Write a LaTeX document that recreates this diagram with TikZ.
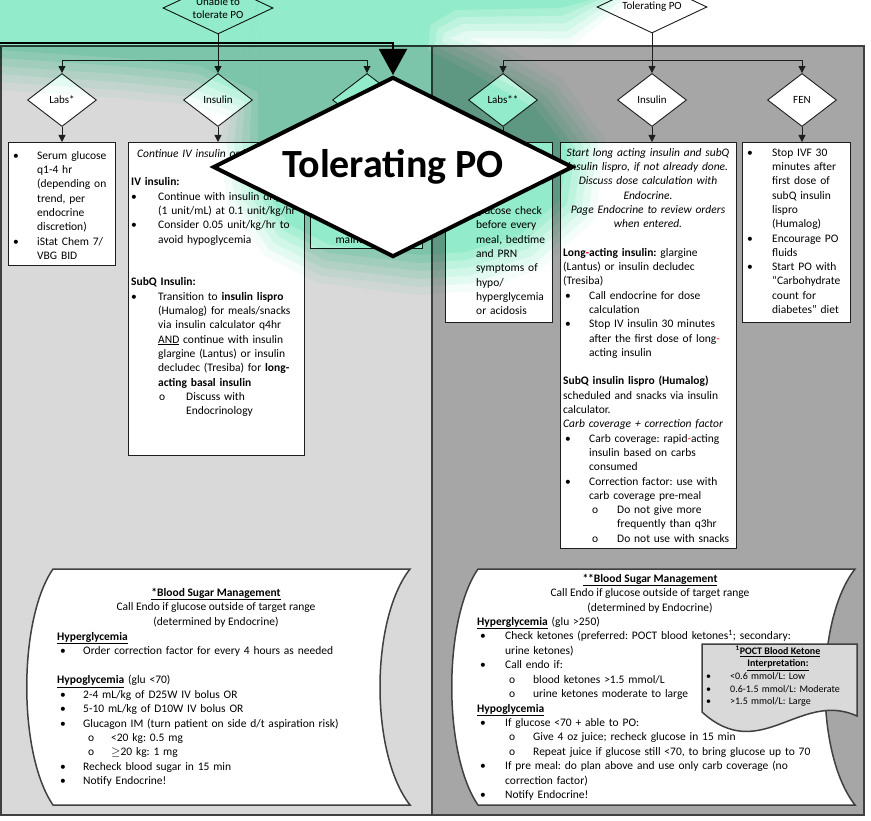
\documentclass[tikz,border=0pt]{standalone}
\usepackage{fontspec}
\setmainfont{Carlito}
\usetikzlibrary{shapes.geometric,arrows.meta}
\frenchspacing
\definecolor{lgray}{RGB}{217,217,217}
\definecolor{dgray}{RGB}{166,166,166}
\definecolor{edge}{RGB}{64,64,64}
\definecolor{ink}{RGB}{30,30,30}
\definecolor{g0}{rgb}{0.958,0.9925,0.9796}
\definecolor{g1}{rgb}{0.934,0.988,0.969}
\definecolor{g2}{rgb}{0.921,0.987,0.963}
\definecolor{g3}{rgb}{0.908,0.986,0.961}
\definecolor{g4}{rgb}{0.888,0.984,0.953}
\definecolor{g5}{rgb}{0.873,0.984,0.951}
\newcommand\fs{\fontsize{11.5pt}{14.3pt}\selectfont}
\newcommand\fd{\fontsize{11.5pt}{14.45pt}\selectfont}
\newcommand\fc{\fontsize{10pt}{12.5pt}\selectfont}
\newcommand\bi[2]{\hspace*{#1}\makebox[#2][l]{•}}
\newcommand\oi[2]{\hspace*{#1}\makebox[#2][l]{o}}
\newcommand\rh{\textcolor{red}{-}}
\tikzset{
 panel/.style={draw=edge, line width=1.5pt},
 dia/.style={diamond, draw=ink, fill=white, line width=0.9pt, inner sep=0pt, aspect=1.3,
   minimum width=69pt, minimum height=53pt, font=\fontsize{11pt}{13pt}\selectfont, align=center},
 topdia/.style={dia, aspect=2.2, minimum width=110pt, minimum height=52pt},
 bigdia/.style={diamond, draw=black, fill=white, line width=4pt, inner sep=0pt, aspect=2,
   minimum width=360pt, minimum height=180pt, font=\fontsize{40pt}{48pt}\selectfont\bfseries},
 box/.style={draw=ink, fill=white, line width=1.2pt, anchor=north west, inner sep=0pt},
 txt/.style={anchor=north west, inner sep=0pt, align=left, font=\fs, text width=#1},
 dtxt/.style={anchor=north west, inner sep=0pt, align=left, font=\fd, text width=#1},
 conn/.style={draw=ink, line width=0.8pt},
 arr/.style={conn, -{Triangle[length=7pt,width=7pt]}},
 doc/.style={draw=edge, fill=white, line width=1.5pt},
 callout/.style={draw=edge, fill=lgray, line width=1.5pt},
}
\begin{document}
\begin{tikzpicture}[x=1pt, y=-1pt]
\useasboundingbox (0,0) rectangle (871,821);
% panels
\draw[panel, fill=lgray] (1,46) rectangle (432,815);
\draw[panel, fill=dgray] (432,46) rectangle (864,815);

% top diamonds
\node[topdia] (unable) at (218,8) {Unable to\\tolerate PO};
\node[topdia] (tolpo) at (652,7) {Tolerating PO};
\coordinate (jA) at (218,60);
\coordinate (jB) at (652,60);

% second level diamonds
\node[dia] (labsA) at (62,100) {Labs*};
\node[dia] (insA) at (218,100) {Insulin};
\node[dia] (fenA) at (367,100) {FEN};
\node[dia] (labsB) at (503,100) {Labs**};
\node[dia] (insB) at (652,100) {Insulin};
\node[dia] (fenB) at (802,100) {FEN};

% boxes
\node[box, minimum width=107pt, minimum height=123pt] (boxA) at (8,142) {};
\node[box, minimum width=176pt, minimum height=313pt] (boxB) at (128,142) {};
\node[box, minimum width=112pt, minimum height=106pt] (boxC) at (310,142) {};
\node[box, minimum width=107pt, minimum height=180pt] (boxD) at (445,142) {};
\node[box, minimum width=176pt, minimum height=406pt] (boxE) at (560,142) {};
\node[box, minimum width=108pt, minimum height=180pt] (boxF) at (742,142) {};

% connectors
\draw[conn] (unable.south) -- (jA);
\draw[arr] (jA) -| (labsA.north);
\draw[arr] (jA) -- (insA.north);
\draw[arr] (jA) -| (fenA.north);
\draw[conn] (tolpo.south) -- (jB);
\draw[arr] (jB) -| (labsB.north);
\draw[arr] (jB) -- (insB.north);
\draw[arr] (jB) -| (fenB.north);
\draw[arr] (labsA.south) -- (labsA.south |- boxA.north);
\draw[arr] (insA.south) -- (insA.south |- boxB.north);
\draw[arr] (fenA.south) -- (fenA.south |- boxC.north);
\draw[arr] (labsB.south) -- (labsB.south |- boxD.north);
\draw[arr] (insB.south) -- (insB.south |- boxE.north);
\draw[arr] (fenB.south) -- (fenB.south |- boxF.north);

% box texts
\node[txt=105pt] (tA) at (13,149) {\strut\bi{0pt}{24pt}Serum glucose\\
 \hspace*{24pt}q1-4 hr\\ \hspace*{24pt}(depending on\\ \hspace*{24pt}trend, per\\
 \hspace*{24pt}endocrine\\ \hspace*{24pt}discretion)\\ \bi{0pt}{24pt}iStat Chem 7/\\
 \hspace*{24pt}VBG BID};

\node[txt=200pt] (tB) at (131,147) {\strut\hspace*{6pt}\textit{Continue IV insulin orders}\\
 \mbox{}\\
 \textbf{IV insulin:}\\
 \bi{0pt}{27pt}Continue with insulin drip\\
 \hspace*{27pt}(1 unit/mL) at 0.1 unit/kg/hr\\
 \bi{0pt}{27pt}Consider 0.05 unit/kg/hr to\\
 \hspace*{27pt}avoid hypoglycemia\\
 \mbox{}\\ \mbox{}\\
 \textbf{SubQ Insulin:}\\
 \bi{0pt}{27pt}Transition to \textbf{insulin lispro}\\
 \hspace*{27pt}(Humalog) for meals/snacks\\
 \hspace*{27pt}via insulin calculator q4hr\\
 \hspace*{27pt}\underline{AND} continue with insulin\\
 \hspace*{27pt}glargine (Lantus) or insulin\\
 \hspace*{27pt}decludec (Tresiba) for \textbf{long-}\\
 \hspace*{27pt}\textbf{acting basal insulin}\\
 \oi{28pt}{27pt}Discuss with\\
 \hspace*{55pt}Endocrinology};

\node[anchor=center, inner sep=0pt, font=\fs] (tC) at (366,240) {maintenance};

\node[txt=105pt] (tD) at (452,190) {\strut\bi{0pt}{24pt}POC\\
 \hspace*{24pt}glucose check\\ \hspace*{24pt}before every\\ \hspace*{24pt}meal, bedtime\\
 \hspace*{24pt}and PRN\\ \hspace*{24pt}symptoms of\\ \hspace*{24pt}hypo/\\
 \hspace*{24pt}hyperglycemia\\ \hspace*{24pt}or acidosis};

\node[anchor=north, inner sep=0pt, align=center, text width=180pt, font=\fs\itshape] (tE1) at (648,146)
 {\strut Start long acting insulin and subQ\\ insulin lispro, if not already done.\\
  Discuss dose calculation with\\ Endocrine.\\ Page Endocrine to review orders\\ when entered.};

\node[txt=185pt] (tE2) at (563,246) {\strut\textbf{Long\rh acting insulin:} glargine\\
 (Lantus) or insulin decludec\\ (Tresiba)\\
 \bi{2pt}{24pt}Call endocrine for dose\\ \hspace*{26pt}calculation\\
 \bi{2pt}{24pt}Stop IV insulin 30 minutes\\ \hspace*{26pt}after the first dose of long\rh\\
 \hspace*{26pt}acting insulin\\
 \mbox{}\\
 \textbf{SubQ insulin lispro (Humalog)}\\
 scheduled and snacks via insulin\\ calculator.\\
 \textit{Carb coverage + correction factor}\\
 \bi{2pt}{24pt}Carb coverage: rapid\rh acting\\ \hspace*{26pt}insulin based on carbs\\
 \hspace*{26pt}consumed\\
 \bi{2pt}{24pt}Correction factor: use with\\ \hspace*{26pt}carb coverage pre-meal\\
 \oi{29pt}{25pt}Do not give more\\ \hspace*{54pt}frequently than q3hr\\
 \oi{29pt}{25pt}Do not use with snacks};

\node[txt=115pt] (tF) at (746,146) {\strut\bi{1pt}{25pt}Stop IVF 30\\
 \hspace*{26pt}minutes after\\ \hspace*{26pt}first dose of\\ \hspace*{26pt}subQ insulin\\
 \hspace*{26pt}lispro\\ \hspace*{26pt}(Humalog)\\
 \bi{1pt}{25pt}Encourage PO\\ \hspace*{26pt}fluids\\
 \bi{1pt}{25pt}Start PO with\\ \hspace*{26pt}“Carbohydrate\\ \hspace*{26pt}count for\\
 \hspace*{26pt}diabetes” diet};

% bottom documents
\draw[doc] (53,569) -- (410,569) .. controls (370,620) and (370,754) .. (410,805)
  -- (53,805) .. controls (18,754) and (18,620) .. (53,569) -- cycle;
\draw[doc] (478,569) -- (855,569) .. controls (815,620) and (815,754) .. (855,805)
  -- (478,805) .. controls (443,754) and (443,620) .. (478,569) -- cycle;

\node[anchor=north, inner sep=0pt, align=center, font=\fd] (hL) at (216,586)
 {\strut\textbf{\underline{*Blood Sugar Management}}\\ Call Endo if glucose outside of target range\\
  (determined by Endocrine)};
\node[dtxt=340pt] (bL) at (57,630) {\strut\textbf{\underline{Hyperglycemia}}\\
 \bi{3pt}{23pt}Order correction factor for every 4 hours as needed\\
 \mbox{}\\
 \textbf{\underline{Hypoglycemia}} (glu <70)\\
 \bi{3pt}{23pt}2-4 mL/kg of D25W IV bolus OR\\
 \bi{3pt}{23pt}5-10 mL/kg of D10W IV bolus OR\\
 \bi{3pt}{23pt}Glucagon IM (turn patient on side d/t aspiration risk)\\
 \oi{31pt}{23pt}<20 kg: 0.5 mg\\
 \oi{31pt}{23pt}$\geq$20 kg: 1 mg\\
 \bi{3pt}{23pt}Recheck blood sugar in 15 min\\
 \bi{3pt}{23pt}Notify Endocrine!};

\node[anchor=north, inner sep=0pt, align=center, font=\fd] (hR) at (650,572)
 {\strut\textbf{\underline{**Blood Sugar Management}}\\ Call Endo if glucose outside of target range\\
  (determined by Endocrine)};
\node[dtxt=390pt] (bR) at (477,615) {\strut\textbf{\underline{Hyperglycemia}} (glu >250)\\
 \bi{3pt}{25pt}Check ketones (preferred: POCT blood ketones\textsuperscript{1}; secondary:\\
 \hspace*{28pt}urine ketones)\\
 \bi{3pt}{25pt}Call endo if:\\
 \oi{32pt}{24pt}blood ketones >1.5 mmol/L\\
 \oi{32pt}{24pt}urine ketones moderate to large\\
 \textbf{\underline{Hypoglycemia}}\\
 \bi{3pt}{25pt}If glucose <70 + able to PO:\\
 \oi{32pt}{24pt}Give 4 oz juice; recheck glucose in 15 min\\
 \oi{32pt}{24pt}Repeat juice if glucose still <70, to bring glucose up to 70\\
 \bi{3pt}{25pt}If pre meal: do plan above and use only carb coverage (no\\
 \hspace*{28pt}correction factor)\\
 \bi{3pt}{25pt}Notify Endocrine!};

% callout
\draw[callout] (702,644) -- (857,644) -- (857,716) .. controls (800,690) and (760,765) .. (702,712) -- cycle;
\node[anchor=north, inner sep=0pt, align=center, font=\fc\bfseries] (cH) at (778,645.5)
 {\strut\textsuperscript{1}\underline{POCT Blood Ketone}\\ \underline{Interpretation:}};
\node[anchor=north west, inner sep=0pt, align=left, font=\fc, text width=150pt] (cB) at (705,670.8)
 {\strut\bi{1pt}{24pt}<0.6 mmol/L: Low\\ \bi{1pt}{24pt}0.6-1.5 mmol/L: Moderate\\ \bi{1pt}{24pt}>1.5 mmol/L: Large};

% green highlight glow: two abutting pieces, nested offset layers, multiplied
\begin{scope}[blend mode=multiply]
 \foreach \d/\c in {40/g0,32/g1,24/g2,16/g3,8/g4,0/g5}{
  \fill[fill=\c] (0,0) -- (258,0) -- ({258-0.8*\d},{92+0.6*\d}) -- ({200-0.27*\d},{66+0.96*\d})
   -- ({120-0.08*\d},{58+\d}) -- ({30-0.05*\d},{52+\d}) -- (0,{50+\d}) -- cycle;
  \fill[fill=\c] (258,0) -- ({590+\d},0) -- ({560+0.29*\d},{8+0.96*\d}) -- ({455+0.5*\d},{10+0.87*\d})
   -- ({430+0.87*\d},{25+0.5*\d}) -- ({428+0.85*\d},{50-0.5*\d}) -- ({470+0.47*\d},{72-0.88*\d})
   -- ({535+0.66*\d},{108-0.75*\d}) -- ({568+0.95*\d},{150-0.25*\d}) -- ({560+0.87*\d},{200+0.5*\d})
   -- ({520+0.5*\d},{235+0.87*\d}) -- ({465+0.2*\d},{252+0.98*\d}) -- (420,{255+\d})
   -- ({330-0.3*\d},{245+0.95*\d}) -- ({290-0.65*\d},{225+0.76*\d}) -- ({265-0.92*\d},{190+0.38*\d})
   -- ({258-\d},{140+0.07*\d}) -- ({258-0.8*\d},{92+0.6*\d}) -- cycle;
 }
\end{scope}

% big overlay
\coordinate (tl) at (0,43);
\node[bigdia] (big) at (393,167) {Tolerating PO};
\draw[line width=2pt, -{Triangle[length=26pt,width=28pt]}] (tl) -| (big.north);
\end{tikzpicture}
\end{document}
